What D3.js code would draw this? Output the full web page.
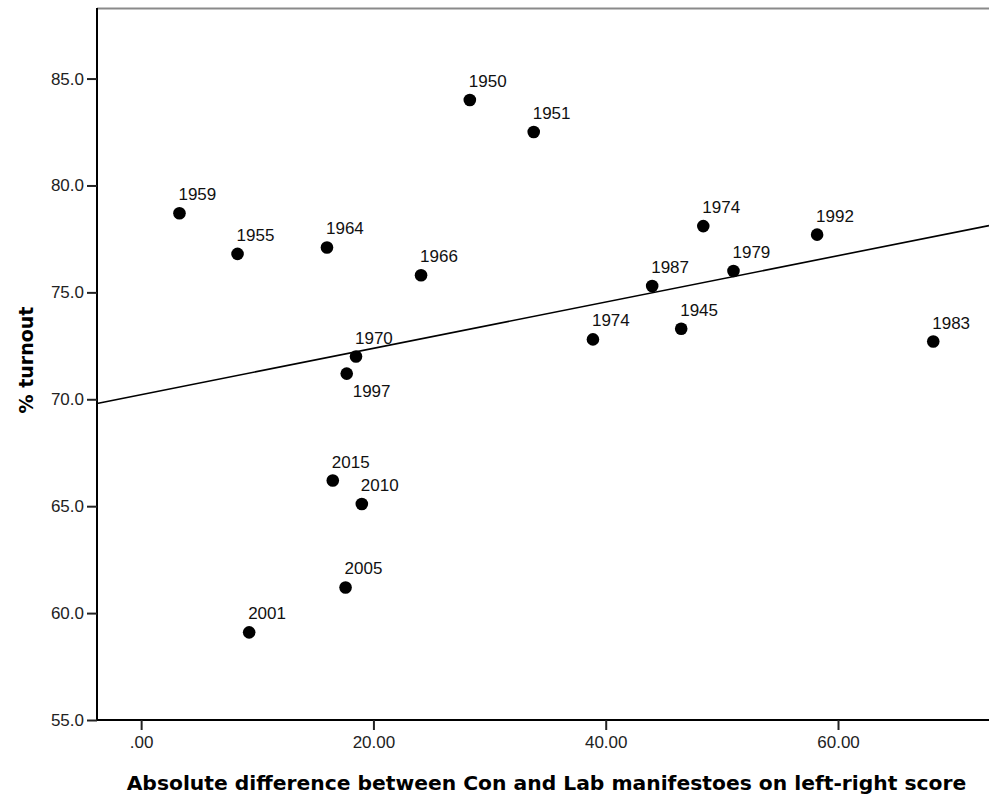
<!DOCTYPE html>
<html>
<head>
<meta charset="utf-8">
<script src="https://cdn.jsdelivr.net/npm/d3@7"></script>
<style>
  body { margin: 0; background: #fff; }
  text { font-family: "Liberation Sans", Arial, sans-serif; }
</style>
</head>
<body>
<script>
const WIDTH  = 989;
const HEIGHT = 798;

// election year, Con-Lab left-right gap, % turnout
const years   = ['1945', '1950', '1951', '1955', '1959', '1964', '1966', '1970', '1974', '1974',
                 '1979', '1983', '1987', '1992', '1997', '2001', '2005', '2010', '2015'];
const gap     = [46.5, 28.3, 33.8, 8.3, 3.3, 16.0, 24.1, 18.5, 48.4, 38.9,
                 51.0, 68.2, 44.0, 58.2, 17.7, 9.3, 17.6, 19.0, 16.5];
const turnout = [73.3, 84.0, 82.5, 76.8, 78.7, 77.1, 75.8, 72.0, 78.1, 72.8,
                 76.0, 72.7, 75.3, 77.7, 71.2, 59.1, 61.2, 65.1, 66.2];

const xTicks = [0, 20, 40, 60];
const yTicks = [55, 60, 65, 70, 75, 80, 85];

// labels that sit under their point instead of above
const labelBelow = [14];

const x = d3.scaleLinear().domain([-3.8, 73.0]).range([97, WIDTH]);
const y = d3.scaleLinear().domain([55, 88.3]).range([720, 8]);

const svg = d3.select('body').append('svg')
    .attr('width', WIDTH)
    .attr('height', HEIGHT);

// top frame line
svg.append('line')
    .attr('x1', x.range()[0]).attr('x2', x.range()[1])
    .attr('y1', y.range()[1] + 0.5).attr('y2', y.range()[1] + 0.5)
    .attr('stroke', '#8a8a8a').attr('stroke-width', 2);

// least squares fit line
const mx = d3.mean(gap), my = d3.mean(turnout);
const sxy = d3.sum(gap, (g, i) => (g - mx) * (turnout[i] - my));
const sxx = d3.sum(gap, g => (g - mx) * (g - mx));
const slope = sxy / sxx;
const intercept = my - slope * mx;
const [x0, x1] = x.domain();

svg.append('line')
    .attr('x1', x(x0)).attr('y1', y(intercept + slope * x0))
    .attr('x2', x(x1)).attr('y2', y(intercept + slope * x1))
    .attr('stroke', '#000').attr('stroke-width', 1.6);

// axes
const fmtX = d => d3.format('.2f')(d).replace(/^0\./, '.');
const xAxis = svg.append('g')
    .attr('transform', `translate(0,${y.range()[0]})`)
    .call(d3.axisBottom(x).tickValues(xTicks).tickFormat(fmtX).tickSize(10).tickPadding(6));
const yAxis = svg.append('g')
    .attr('transform', `translate(${x.range()[0]},0)`)
    .call(d3.axisLeft(y).tickValues(yTicks).tickFormat(d3.format('.1f')).tickSize(10).tickPadding(3));

[xAxis, yAxis].forEach(a => {
    a.select('.domain').attr('stroke', '#000').attr('stroke-width', 2);
    a.selectAll('.tick line').attr('stroke', '#222').attr('stroke-width', 2);
    a.selectAll('.tick text')
        .attr('fill', '#222')
        .style('font-family', '"Liberation Sans", Arial, sans-serif')
        .style('font-size', '17px');
});
// x axis domain should start at the y axis, with no outer tick
xAxis.select('.domain').attr('d', `M${x.range()[0]},0H${x.range()[1]}`);
yAxis.select('.domain').attr('d', `M0,${y.range()[0]}V${y.range()[1]}`);

// points
svg.append('g').selectAll('circle')
    .data(years)
    .join('circle')
    .attr('cx', (d, i) => x(gap[i]))
    .attr('cy', (d, i) => y(turnout[i]))
    .attr('r', 6.3)
    .attr('fill', '#000');

// point labels
svg.append('g').selectAll('text')
    .data(years)
    .join('text')
    .attr('x', (d, i) => x(gap[i]) + (labelBelow.includes(i) ? 6 : -1))
    .attr('y', (d, i) => y(turnout[i]) + (labelBelow.includes(i) ? 23 : -13))
    .attr('fill', '#111')
    .style('font-size', '17px')
    .text(d => d);

// axis titles
svg.append('text')
    .attr('x', 546.5).attr('y', 790)
    .attr('text-anchor', 'middle')
    .style('font-family', '"DejaVu Sans", Verdana, sans-serif')
    .style('font-weight', 'bold')
    .style('font-size', '20.3px')
    .attr('fill', '#000')
    .text('Absolute difference between Con and Lab manifestoes on left-right score');

svg.append('text')
    .attr('transform', 'translate(33,360) rotate(-90)')
    .attr('text-anchor', 'middle')
    .style('font-family', '"DejaVu Sans", Verdana, sans-serif')
    .style('font-weight', 'bold')
    .style('font-size', '19px')
    .attr('fill', '#000')
    .text('% turnout');
</script>
</body>
</html>
